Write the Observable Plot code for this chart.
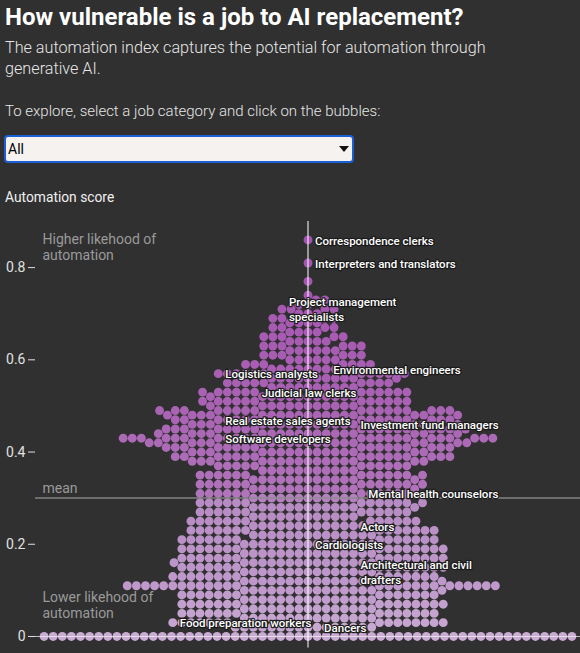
<!DOCTYPE html>
<html>
<head>
<meta charset="utf-8">
<script src="https://cdn.jsdelivr.net/npm/d3@7"></script>
<script src="https://cdn.jsdelivr.net/npm/@observablehq/plot@0.6"></script>
<style>
  html, body { margin: 0; padding: 0; }
  body { background: #303030; color: #fff; font-family: Roboto, "Noto Sans", sans-serif; width: 580px; height: 653px; overflow: hidden; position: relative; }
  .abs { position: absolute; left: 5px; white-space: nowrap; }
  #title { top: 4.8px; font-size: 24px; line-height: 1; font-weight: 700; color: #fff; }
  #subtitle { top: 36.5px; font-size: 16.2px; line-height: 21.5px; font-weight: 300; color: #e6e6e6; }
  #prompt { top: 104.4px; font-size: 15px; line-height: 1; font-weight: 300; color: #e6e6e6; }
  #sel { position: absolute; left: 4px; top: 135px; width: 350px; height: 28px; box-sizing: border-box;
         -webkit-appearance: none; appearance: none; background: #f6f2ef; border: 2px solid #1a5fd6; border-radius: 4px;
         font-family: Roboto, sans-serif; font-size: 14px; color: #000; padding: 0 0 0 2px; margin: 0; }
  #arrow { position: absolute; left: 339px; top: 146px; width: 0; height: 0; border-left: 5px solid transparent; border-right: 5px solid transparent; border-top: 6px solid #111; }
  #ylabel { top: 191.4px; font-size: 13.8px; line-height: 1; font-weight: 400; color: #f0f0f0; }
  #chart { position: absolute; left: 0; top: 215px; }
</style>
</head>
<body>
<div id="title" class="abs">How vulnerable is a job to AI replacement?</div>
<div id="subtitle" class="abs">The automation index captures the potential for automation through<br>generative AI.</div>
<div id="prompt" class="abs">To explore, select a job category and click on the bubbles:</div>
<select id="sel"><option>All</option></select>
<div id="arrow"></div>
<div id="ylabel" class="abs">Automation score</div>
<div id="chart"></div>
<script>
// Automation score levels and the number of jobs at each level
const scoreLevels = [
  0.00, 0.01, 0.02, 0.03, 0.04, 0.05, 0.06, 0.07, 0.08, 0.09,
  0.10, 0.11, 0.12, 0.13, 0.14, 0.15, 0.16, 0.17, 0.18, 0.19,
  0.20, 0.21, 0.22, 0.23, 0.24, 0.25, 0.26, 0.27, 0.28, 0.29,
  0.30, 0.31, 0.32, 0.33, 0.34, 0.35, 0.36, 0.37, 0.38, 0.39,
  0.40, 0.41, 0.42, 0.43, 0.44, 0.45, 0.46, 0.47, 0.48, 0.49,
  0.50, 0.51, 0.52, 0.53, 0.54, 0.55, 0.56, 0.57, 0.58, 0.59,
  0.60, 0.61, 0.62, 0.63, 0.64, 0.65, 0.66, 0.67, 0.68, 0.69,
  0.70, 0.71, 0.72, 0.73, 0.74, 0.75, 0.76, 0.77, 0.78, 0.79,
  0.80, 0.81, 0.82, 0.83, 0.84, 0.85, 0.86
];
const jobCounts = [
  59, 0, 16, 15, 15, 14, 15, 15, 15, 14,
  16, 26, 16, 15, 15, 15, 16, 15, 15, 15,
  15, 14, 14, 14, 13, 13, 12, 12, 13, 13,
  12, 12, 13, 13, 13, 13, 11, 11, 16, 16,
  16, 17, 20, 23, 18, 18, 17, 16, 18, 17,
  12, 12, 12, 12, 10, 9, 11, 11, 8, 7,
  6, 6, 6, 6, 5, 5, 4, 4, 4, 4,
  3, 4, 2, 2, 1, 0, 0, 1, 0, 0,
  0, 1, 0, 0, 0, 0, 1
];

// Highlighted jobs: name, score, and which job of that score level carries the name
const labelNames = [
  "Correspondence clerks", "Interpreters and translators", "Project management\nspecialists",
  "Logistics analysts", "Environmental engineers", "Judicial law clerks",
  "Real estate sales agents", "Investment fund managers", "Software developers",
  "Mental health counselors", "Actors", "Cardiologists",
  "Architectural and civil\ndrafters", "Food preparation workers", "Dancers"
];
const labelScores = [0.86, 0.81, 0.71, 0.57, 0.58, 0.53, 0.47, 0.46, 0.43, 0.31, 0.24, 0.20, 0.14, 0.03, 0.02];
const labelRanks  = [0, 0, 3, 9, 3, 1, 9, 9, 9, 0, 10, 0, 10, 14, 2];

const yTicks = [0, 0.2, 0.4, 0.6, 0.8];
const annotations = [
  {text: "Higher likehood of\nautomation", score: 0.846},
  {text: "Lower likehood of\nautomation", score: 0.069}
];

// Build one row per job
const jobs = [];
scoreLevels.forEach((s, li) => {
  for (let k = 0; k < jobCounts[li]; k++) {
    let label = null;
    labelScores.forEach((ls, j) => {
      if (Math.abs(ls - s) < 1e-9 && labelRanks[j] === k) label = labelNames[j];
    });
    jobs.push({score: s, label});
  }
});
const meanScore = d3.mean(jobs, d => d.score);

const dotR = 4.45;
const dodge = (opts) => Plot.dodgeX({anchor: "middle", r: dotR, padding: 0.2}, opts);

const chart = Plot.plot({
  width: 580,
  height: 438,
  marginLeft: 35,
  marginRight: 0,
  marginTop: 6,
  marginBottom: 5.5,
  style: {background: "transparent", color: "#e0e0e0", fontFamily: "Roboto, sans-serif", fontSize: "14px"},
  x: {domain: [-1, 1], axis: null},
  y: {domain: [-0.025, 0.9], ticks: yTicks, tickFormat: "~g", tickSize: 7, tickPadding: 3, label: null},
  color: {type: "linear", domain: [0, 0.1, 0.29, 0.31, 0.5, 0.86],
          range: ["#c9abd3", "#bf9acb", "#b78bc3", "#b074ba", "#a962b3", "#a452b0"]},
  marks: [
    Plot.dot(jobs, dodge({y: "score", fill: "score", r: dotR})),
    Plot.ruleY([0], {stroke: "#eeeeee", strokeOpacity: 0.75, strokeWidth: 1}),
    Plot.ruleY([meanScore], {stroke: "#8c8c8c", strokeWidth: 1.5, strokeOpacity: 0.9}),
    Plot.ruleX([0], {stroke: "#ffffff", strokeWidth: 1}),
    Plot.text([meanScore], {y: d => d, text: () => "mean", frameAnchor: "left", dx: 7, dy: -9, textAnchor: "start", fill: "#9a9a9a", fontSize: 14}),
    Plot.text(annotations, {y: "score", text: "text", frameAnchor: "left", dx: 7, textAnchor: "start", lineAnchor: "middle", lineHeight: 1.15, fill: "#9a9a9a", fontSize: 14}),
    Plot.text(jobs, dodge({y: "score", text: "label", dx: 7, textAnchor: "start", lineAnchor: "middle", lineHeight: 1.3,
      fill: "#ffffff", stroke: "#1b1b1b", strokeWidth: 2.5, paintOrder: "stroke", fontSize: 11.5, fontWeight: 500}))
  ]
});
document.getElementById("chart").appendChild(chart);
</script>
</body>
</html>
